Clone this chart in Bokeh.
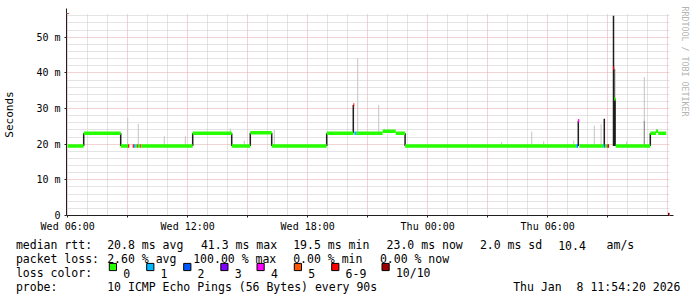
import math
from bokeh.plotting import figure
from bokeh.models import Range1d, FixedTicker, Arrow, NormalHead, ColumnDataSource, Title
from bokeh.embed import file_html
from bokeh.resources import INLINE
from bokeh.core.properties import value

# ---------------- data ----------------
# time axis: hours after Wed 06:00
x_ticks = [0, 3, 6, 9, 12, 15, 18, 21, 24, 27]
x_tick_labels = ["Wed 06:00", "", "Wed 12:00", "", "Wed 18:00", "", "Thu 00:00", "", "Thu 06:00", ""]
y_ticks = [0, 10, 20, 30, 40, 50]          # milliseconds
y_tick_labels = ["0", "10 m", "20 m", "30 m", "40 m", "50 m"]

loss_names = ["0", "1", "2", "3", "4", "5", "6-9", "10/10"]
loss_colors = ["#26ff00", "#00b8ff", "#0059ff", "#7e00ff", "#ff00ff", "#ff5500", "#ff0000", "#a10000"]

# median rtt runs: start hour, end hour, median (ms), loss class index
med_start = [0.00, 0.80, 2.65, 3.02, 3.25, 3.31, 3.40, 3.48, 3.53, 3.63, 3.68, 6.25, 8.20, 9.13,
             10.20, 12.95, 14.28, 14.33, 14.45, 15.75, 16.40, 16.87, 25.42, 25.47, 25.52, 25.58,
             26.78, 26.82, 26.87, 26.98, 27.02, 27.27, 27.33, 27.40, 29.13, 29.42, 29.52]
med_end = [0.80, 2.65, 3.02, 3.08, 3.31, 3.40, 3.48, 3.53, 3.63, 3.68, 6.25, 8.20, 9.13, 10.20,
           12.95, 14.28, 14.33, 14.45, 15.75, 16.40, 16.87, 25.42, 25.47, 25.52, 25.58, 26.78,
           26.82, 26.87, 26.98, 27.02, 27.07, 27.33, 27.40, 29.13, 29.42, 29.52, 29.93]
med_ms = [19.5, 23.1, 19.5, 19.5, 19.5, 19.5, 19.5, 19.5, 19.5, 19.5, 19.5, 23.1, 19.5, 23.2,
          19.5, 23.1, 31.0, 23.1, 23.1, 23.6, 23.1, 19.5, 19.5, 19.5, 26.6, 19.5,
          19.5, 19.5, 19.5, 19.5, 19.5, 41.3, 32.7, 19.5, 23.1, 23.6, 23.1]
med_loss = [0, 0, 0, 6, 6, 1, 0, 6, 0, 6, 0, 0, 0, 0,
            0, 0, 6, 1, 0, 0, 0, 0, 1, 2, 4, 0,
            1, 2, 0, 6, 7, 6, 0, 0, 0, 0, 0]

# smoke (spread of the pings): hour, low (ms), high (ms), density 1 light .. 3 dense
smoke_h = [0.80, 2.65, 3.00, 3.53, 4.83, 5.88, 6.25, 8.13, 8.20, 8.83, 9.13, 10.20, 10.33,
           12.95, 14.28, 14.50, 15.55, 15.85, 16.05, 16.87, 21.70, 23.20, 23.80, 25.30,
           25.53, 26.33, 26.67, 26.83, 27.29, 27.33, 27.37, 27.37, 27.95, 28.83, 28.83,
           29.13, 29.45]
smoke_lo = [19.5, 19.5, 19.5, 19.5, 19.5, 19.5, 19.5, 23.1, 19.5, 19.5, 19.5, 19.5, 19.5,
            19.5, 23.1, 23.1, 23.1, 23.6, 23.6, 19.5, 19.5, 19.5, 19.5, 19.5,
            19.5, 19.5, 19.5, 19.5, 19.5, 19.5, 32.7, 19.5, 19.5, 26.6, 19.5,
            19.5, 23.1]
smoke_hi = [23.1, 23.1, 27.4, 25.7, 22.2, 22.2, 23.1, 24.4, 23.1, 21.0, 23.2, 23.2, 24.0,
            23.1, 31.0, 44.1, 31.0, 24.3, 24.3, 23.1, 20.6, 23.5, 20.8, 21.0,
            26.6, 25.2, 25.6, 27.1, 56.0, 41.0, 41.0, 32.7, 20.8, 38.8, 26.6,
            23.1, 24.3]
smoke_dens = [3, 3, 1, 1, 1, 1, 3, 1, 3, 1, 3, 3, 1,
              3, 3, 1, 1, 1, 1, 3, 1, 1, 1, 1,
              3, 1, 1, 3, 3, 3, 1, 3, 1, 1, 2,
              3, 1]

rtt_stats = ["20.8 ms avg", "41.3 ms max", "19.5 ms min", "23.0 ms now", "2.0 ms sd", "10.4", "am/s"]
loss_stats = ["2.60 % avg", "100.00 % max", "0.00 % min", "0.00 % now"]
probe_text = "10 ICMP Echo Pings (56 Bytes) every 90s"
stamp_parts = ["Thu Jan", "8 11:54:20 2026"]
watermark = "RRDTOOL / TOBI OETIKER"

# ---------------- layout / style ----------------
MONO = "DejaVu Sans Mono"
W = 697
MAIN_H = 234
LEG_H = 63
F_LEFT, F_RIGHT, F_TOP, F_BOTTOM = 66, 669, 13, 215
X0 = -0.06
PX_PER_H = 20.0
X1 = X0 + (F_RIGHT - F_LEFT) / PX_PER_H
Y1 = 56.65
PX_PER_MS = (F_BOTTOM - F_TOP) / Y1


def hx(px):
    return X0 + (px - F_LEFT) / PX_PER_H


def vy(py):
    return (F_BOTTOM - py) / PX_PER_MS


p = figure(width=W, height=MAIN_H, x_range=Range1d(X0, X1), y_range=Range1d(0, Y1),
           output_backend="svg", toolbar_location=None,
           min_border_left=F_LEFT, min_border_right=W - F_RIGHT,
           min_border_top=F_TOP, min_border_bottom=MAIN_H - F_BOTTOM,
           background_fill_color="white", border_fill_color="white", outline_line_color=None)

# grids
grid_x_major = list(range(0, 31, 3))
grid_x_minor = [h for h in range(0, 31) if h % 3 != 0]
grid_y_major = list(range(0, 57, 10))
grid_y_minor = [v for v in range(0, 57, 2) if v % 10 != 0]
p.xgrid.ticker = FixedTicker(ticks=grid_x_major, minor_ticks=grid_x_minor)
p.ygrid.ticker = FixedTicker(ticks=grid_y_major, minor_ticks=grid_y_minor)
for g in (p.xgrid[0], p.ygrid[0]):
    g.grid_line_color = "#e6a8a8"
    g.grid_line_dash = "1 1"
    g.grid_line_width = 1
    g.minor_grid_line_color = "#c8c8c8"
    g.minor_grid_line_dash = "1 1"
    g.minor_grid_line_width = 1

# axes
p.xaxis.ticker = FixedTicker(ticks=x_ticks, minor_ticks=[])
p.xaxis.major_label_overrides = {t: l for t, l in zip(x_ticks, x_tick_labels)}
p.yaxis.ticker = FixedTicker(ticks=y_ticks, minor_ticks=[])
p.yaxis.major_label_overrides = {t: l for t, l in zip(y_ticks, y_tick_labels)}
for ax in (p.xaxis[0], p.yaxis[0]):
    ax.axis_line_color = "#202020"
    ax.axis_line_width = 1
    ax.major_tick_line_color = "#202020"
    ax.major_tick_in = 0
    ax.major_tick_out = 2
    ax.minor_tick_in = 0
    ax.minor_tick_out = 0
    ax.major_label_text_font = MONO
    ax.major_label_text_font_size = "10px"
    ax.major_label_text_color = "#000000"
p.xaxis.major_label_standoff = 3
p.yaxis.major_label_standoff = 4
p.yaxis.axis_label = "Seconds"
p.yaxis.axis_label_text_font = MONO
p.yaxis.axis_label_text_font_size = "11px"
p.yaxis.axis_label_text_font_style = "normal"
p.yaxis.axis_label_text_color = "#000000"
p.yaxis.axis_label_standoff = 17

# smoke
smoke_palette = {1: "#c4c4c4", 2: "#8c8c8c", 3: "#1e1e1e"}
smoke_width = {1: 1.0, 2: 1.2, 3: 1.5}
smoke_src = ColumnDataSource(dict(
    x=smoke_h, lo=smoke_lo, hi=smoke_hi,
    color=[smoke_palette[d] for d in smoke_dens],
    w=[smoke_width[d] for d in smoke_dens]))
p.segment(x0="x", y0="lo", x1="x", y1="hi", source=smoke_src, line_color="color", line_width="w")

# median, coloured by loss
med_src = ColumnDataSource(dict(
    x0=med_start, x1=med_end, y=med_ms,
    color=[loss_colors[i] for i in med_loss]))
p.segment(x0="x0", y0="y", x1="x1", y1="y", source=med_src, line_color="color", line_width=3.5,
          line_cap="butt")

# axis arrows
ARROW = "#7f0000"
p.add_layout(Arrow(end=NormalHead(size=5, fill_color=ARROW, line_color=ARROW, line_width=1),
                   x_start=X0, y_start=Y1, x_end=X0, y_end=vy(F_TOP - 5),
                   line_color="#202020", line_width=1))
p.add_layout(Arrow(end=NormalHead(size=5, fill_color=ARROW, line_color=ARROW, line_width=1),
                   x_start=X1, y_start=0, x_end=hx(F_RIGHT + 4), y_end=0,
                   line_color="#202020", line_width=1))

# watermark in the right border panel
p.add_layout(Title(text=watermark, align="left", vertical_align="top", offset=-7,
                   text_font=MONO, text_font_size="8.3px",
                   text_font_style="normal", text_color="#b4b4b4", standoff=16), "right")

# ---------------- legend block (separate root, stacked below) ----------------
lg = figure(width=W, height=LEG_H, x_range=Range1d(0, W), y_range=Range1d(LEG_H, 0),
            output_backend="svg", toolbar_location=None, x_axis_type=None, y_axis_type=None,
            min_border=0, background_fill_color="white", border_fill_color="white",
            outline_line_color=None)
lg.grid.visible = False

row_base = [10.8, 24.8, 38.8, 52.8]
BEAR = 0.6
head_x = 16
rtt_x = [107.3, 201.0, 293.3, 386.7, 480.0, 558.3, 606.7]
loss_x = [107.3, 193.3, 293.3, 380.0]
square_x = [108.3, 145.7, 182.7, 219.8, 256.0, 293.3, 330.7, 381.0]
SQ = 7.2
stamp_x = [513.3, 576.7]

tx, ty, tt = [], [], []


def add(x, row, s):
    tx.append(x - BEAR)
    ty.append(row_base[row])
    tt.append(s)


add(head_x, 0, "median rtt:")
for x, s in zip(rtt_x, rtt_stats):
    add(x, 0, s)
add(head_x, 1, "packet loss:")
for x, s in zip(loss_x, loss_stats):
    add(x, 1, s)
add(head_x, 2, "loss color:")
for x, s in zip(square_x, loss_names):
    add(x + 15.0, 2, s)
add(head_x, 3, "probe:")
add(107.3, 3, probe_text)
for x, s in zip(stamp_x, stamp_parts):
    add(x, 3, s)

lg.text(x=tx, y=ty, text=tt, text_font=value(MONO), text_font_size="11.5px",
        text_color="#000000", text_baseline="alphabetic", text_align="left")

sq_top = 28.9
lg.quad(left=[x + 0.5 for x in square_x], right=[x + 0.5 + SQ for x in square_x],
        top=[sq_top] * len(square_x), bottom=[sq_top + SQ] * len(square_x),
        fill_color=loss_colors, line_color="#000000", line_width=1)

open("out.html", "w").write(file_html([p, lg], INLINE))
